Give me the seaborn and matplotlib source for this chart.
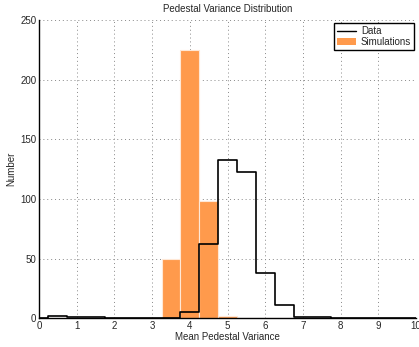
import numpy as np
import pandas as pd
import matplotlib
matplotlib.use("Agg")
import matplotlib.pyplot as plt
import seaborn as sns
from matplotlib.lines import Line2D
from matplotlib.patches import Patch

# Histogram bin centres (width 0.5) and counts per bin
bin_centers = [0.0, 0.5, 1.0, 1.5, 2.0, 2.5, 3.0, 3.5, 4.0, 4.5, 5.0, 5.5,
               6.0, 6.5, 7.0, 7.5, 8.0, 8.5, 9.0, 9.5, 10.0]
data_counts = [0, 2, 1, 1, 0, 0, 0, 0.5, 5, 62, 133, 123,
               38, 11, 1, 1, 0, 0, 0, 0, 0]
sim_counts = [0, 0, 0, 0, 0, 0, 0, 50, 225, 98, 2, 0,
              0, 0, 0, 0, 0, 0, 0, 0, 0]

x_ticks = [0, 1, 2, 3, 4, 5, 6, 7, 8, 9, 10]
y_ticks = [0, 50, 100, 150, 200, 250]

df = pd.DataFrame({"center": bin_centers, "data": data_counts, "sim": sim_counts})

sns.set_style("white")
plt.rcParams["font.family"] = ["Liberation Sans", "DejaVu Sans"]
fig = plt.figure(figsize=(4.19, 3.47), dpi=100)
ax = fig.add_axes([0.093, 0.083, 0.9, 0.859])

orange = "#FF9A4C"
sns.histplot(data=df, x="center", weights="sim", binwidth=0.5,
             binrange=(-0.25, 10.25), stat="count",
             color=orange, edgecolor="#FFE8D6", linewidth=0.8, alpha=1.0,
             ax=ax)
sns.histplot(data=df, x="center", weights="data", binwidth=0.5,
             binrange=(-0.25, 10.25), stat="count",
             element="step", fill=False, color="black", linewidth=1.2,
             ax=ax)

ax.set_xlim(0, 10)
ax.set_ylim(0, 250)
ax.set_xticks(x_ticks)
ax.set_yticks(y_ticks)
ax.tick_params(labelsize=7, direction="in", length=3, width=0.8, pad=2)
ax.grid(True, linestyle=(0, (1, 3)), color="#888888", linewidth=0.7)
ax.set_axisbelow(True)
for side in ("top", "right"):
    ax.spines[side].set_visible(False)
for side in ("left", "bottom"):
    ax.spines[side].set_linewidth(1.0)
    ax.spines[side].set_color("black")

ax.set_title("Pedestal Variance Distribution", fontsize=7, pad=6)
ax.set_xlabel("Mean Pedestal Variance", fontsize=7, labelpad=1)
ax.set_ylabel("Number", fontsize=7, labelpad=3)

handles = [Line2D([0], [0], color="black", linewidth=1.0),
           Patch(facecolor=orange, edgecolor="none")]
leg = ax.legend(handles, ["Data", "Simulations"], loc="upper right",
                fontsize=7, frameon=True, fancybox=False, framealpha=1,
                edgecolor="black", borderpad=0.3, handlelength=2.0,
                handletextpad=0.5, labelspacing=0.1,
                bbox_to_anchor=(0.995, 0.99), borderaxespad=0.0)
leg.get_frame().set_linewidth(1.0)

fig.savefig("out.png", dpi=100)
